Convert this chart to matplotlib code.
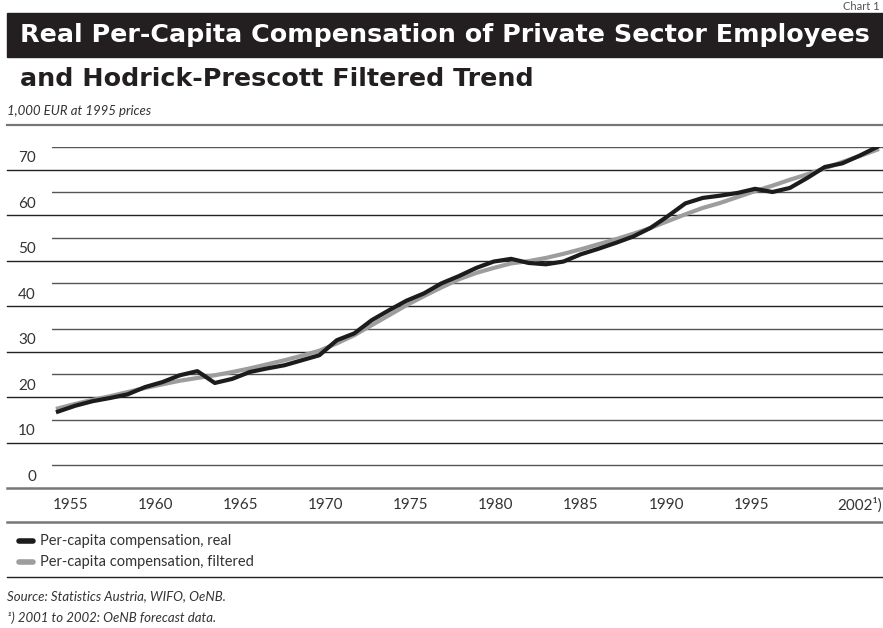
import numpy as np
import matplotlib
matplotlib.use("Agg")
import matplotlib.pyplot as plt
from matplotlib.patches import Rectangle
from matplotlib.lines import Line2D
import matplotlib.transforms as mtransforms

# data (1,000 EUR at 1995 prices)
years = np.arange(1955, 2003)
real = [16.8, 18.1, 19.1, 19.8, 20.6, 22.2, 23.3, 24.8, 25.7, 23.1,
        24.0, 25.5, 26.3, 27.0, 28.1, 29.2, 32.5, 34.0, 36.9, 39.1,
        41.2, 42.8, 45.0, 46.6, 48.4, 49.8, 50.4, 49.5, 49.2, 49.8,
        51.4, 52.6, 53.9, 55.3, 57.2, 59.8, 62.6, 63.8, 64.3, 64.9,
        65.8, 65.1, 66.0, 68.2, 70.6, 71.4, 73.1, 75.0]
filtered = [17.5, 18.5, 19.4, 20.2, 21.1, 22.0, 22.8, 23.6, 24.2, 24.8,
            25.5, 26.3, 27.2, 28.1, 29.1, 30.2, 31.8, 33.6, 35.8, 38.0,
            40.2, 42.2, 44.1, 45.9, 47.3, 48.4, 49.4, 49.9, 50.6, 51.5,
            52.5, 53.6, 54.7, 55.9, 57.2, 58.7, 60.2, 61.6, 62.7, 64.0,
            65.3, 66.5, 67.8, 69.0, 70.3, 71.7, 73.0, 74.4]
tick_years = [1955, 1960, 1965, 1970, 1975, 1980, 1985, 1990, 1995]
y_labels = [0, 10, 20, 30, 40, 50, 60, 70]

W, H = 883, 628
TXT = "#333333"
FONT = ["Lato", "DejaVu Sans"]
plt.rcParams["font.family"] = FONT


def fx(x):
    return x / W


def fy(y):
    return 1 - y / H


fig = plt.figure(figsize=(W / 100, H / 100), dpi=100)

# header
fig.text(fx(880), fy(6), "Chart 1", ha="right", va="center", fontsize=8, color="#555555")
fig.patches.append(Rectangle((fx(7), fy(57)), 1 - fx(7), fy(13) - fy(57),
                             transform=fig.transFigure, color="#231f20", zorder=0))
fig.text(fx(20), fy(35), "Real Per-Capita Compensation of Private Sector Employees",
         ha="left", va="center", color="white", fontsize=18.3, fontweight="bold",
         family="DejaVu Sans")
fig.text(fx(20), fy(79), "and Hodrick-Prescott Filtered Trend",
         ha="left", va="center", color="#231f20", fontsize=18.3, fontweight="bold",
         family="DejaVu Sans")
fig.text(fx(7), fy(111), "1,000 EUR at 1995 prices", ha="left", va="center",
         fontsize=9.5, style="italic", color=TXT)
fig.add_artist(Line2D([fx(7), 1], [fy(125), fy(125)], color="#777777", lw=1.6))

# plot area: 0 sits on the bottom rule, 75 on the top short rule
left, right, top, bottom = 52, 883, 147, 488
ax = fig.add_axes([fx(left), fy(bottom), fx(right - left), fy(top) - fy(bottom)])
ax.set_xlim(1954.66, 2002.34)
ax.set_ylim(0, 75)
for s in ax.spines.values():
    s.set_visible(False)
ax.set_xticks([])
ax.set_yticks([])

ext = (7 - left) / (right - left)
for v in range(5, 80, 10):
    ax.axhline(v, color="#555555", lw=1.0, zorder=1)
for v in range(10, 80, 10):
    ax.axhline(v, xmin=ext, xmax=1, color="#222222", lw=1.0, clip_on=False, zorder=1)
ax.axhline(0, xmin=ext, xmax=1, color="#777777", lw=1.8, clip_on=False, zorder=1)

ylab_tr = mtransforms.blended_transform_factory(fig.transFigure, ax.transData)
for v in y_labels:
    ax.text(fx(36), v + 2.5, str(v), transform=ylab_tr, ha="right", va="center",
            fontsize=11, color=TXT)

ax.plot(years, filtered, color="#9d9d9d", lw=3.0, solid_joinstyle="round", zorder=3)
ax.plot(years, real, color="#1c1c1c", lw=3.0, solid_joinstyle="round", zorder=4)

# x labels sit on a slightly narrower grid than the line in the original
xlab_tr = mtransforms.blended_transform_factory(ax.transData, fig.transFigure)
for yr in tick_years:
    ax.text(1955.7 + (yr - 1955) * 0.977, fy(505), str(yr), transform=xlab_tr,
            ha="center", va="center", fontsize=11, color=TXT)
fig.text(fx(882), fy(505), "2002¹)", ha="right", va="center", fontsize=11, color=TXT)
fig.add_artist(Line2D([fx(7), 1], [fy(522), fy(522)], color="#777777", lw=1.8))

# legend
for i, (lab, col) in enumerate([("Per-capita compensation, real", "#1c1c1c"),
                                ("Per-capita compensation, filtered", "#9d9d9d")]):
    yy = 541 + 21 * i
    fig.add_artist(Line2D([fx(19), fx(33)], [fy(yy), fy(yy)], color=col, lw=4,
                          solid_capstyle="round"))
    fig.text(fx(40), fy(yy), lab, ha="left", va="center", fontsize=10.5, color=TXT)
fig.add_artist(Line2D([fx(7), 1], [fy(577), fy(577)], color="#222222", lw=1.0))

fig.text(fx(7), fy(596), "Source: Statistics Austria, WIFO, OeNB.", ha="left", va="center",
         fontsize=9.5, style="italic", color=TXT)
fig.text(fx(7), fy(618), "¹) 2001 to 2002: OeNB forecast data.", ha="left", va="center",
         fontsize=9.5, style="italic", color=TXT)

fig.savefig("out.png", dpi=100)
